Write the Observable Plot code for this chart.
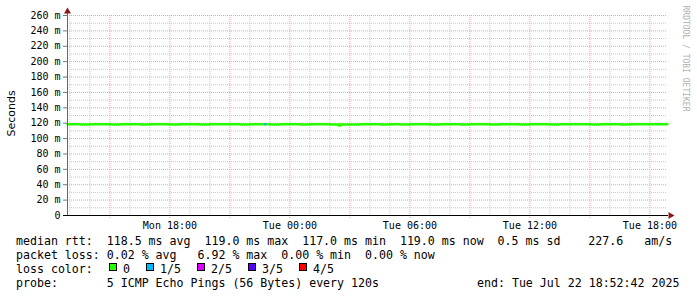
<!DOCTYPE html>
<html>
<head>
<meta charset="utf-8">
<script src="https://cdn.jsdelivr.net/npm/d3@7"></script>
<script src="https://cdn.jsdelivr.net/npm/@observablehq/plot@0.6"></script>
<style>
  html, body { margin: 0; padding: 0; background: #fff; }
  #wrap { width: 697px; height: 297px; position: relative; overflow: hidden; background: #fff; }
  #footer { position: relative; width: 697px; height: 65px; font-family: "DejaVu Sans Mono", monospace; font-size: 11.6px; line-height: 14px; color: #000; }
  #footer .t { position: absolute; white-space: pre; }
  #footer .sw { position: absolute; width: 6px; height: 6px; border: 1px solid #000; }
</style>
</head>
<body>
<div id="wrap"></div>
<script>
// ---- data ----
const startTime = "2025-07-21T12:52:42";
const endTime = "2025-07-22T18:52:42";
const times = [
  "2025-07-21T12:53","2025-07-21T13:00","2025-07-21T13:30","2025-07-21T14:00","2025-07-21T14:30",
  "2025-07-21T15:00","2025-07-21T15:30","2025-07-21T16:00","2025-07-21T16:30","2025-07-21T17:00",
  "2025-07-21T17:30","2025-07-21T18:00","2025-07-21T18:30","2025-07-21T19:00","2025-07-21T19:30",
  "2025-07-21T20:00","2025-07-21T20:30","2025-07-21T21:00","2025-07-21T21:30","2025-07-21T22:00",
  "2025-07-21T22:30","2025-07-21T23:00","2025-07-21T23:30","2025-07-22T00:00","2025-07-22T00:30",
  "2025-07-22T01:00","2025-07-22T01:30","2025-07-22T02:00","2025-07-22T02:20","2025-07-22T02:26",
  "2025-07-22T02:32","2025-07-22T03:00","2025-07-22T03:30","2025-07-22T04:00","2025-07-22T04:30",
  "2025-07-22T05:00","2025-07-22T05:30","2025-07-22T06:00","2025-07-22T06:30","2025-07-22T07:00",
  "2025-07-22T07:30","2025-07-22T08:00","2025-07-22T08:30","2025-07-22T09:00","2025-07-22T09:30",
  "2025-07-22T10:00","2025-07-22T10:30","2025-07-22T11:00","2025-07-22T11:30","2025-07-22T12:00",
  "2025-07-22T12:30","2025-07-22T13:00","2025-07-22T13:30","2025-07-22T14:00","2025-07-22T14:30",
  "2025-07-22T15:00","2025-07-22T15:30","2025-07-22T16:00","2025-07-22T16:30","2025-07-22T17:00",
  "2025-07-22T17:30","2025-07-22T18:00","2025-07-22T18:30","2025-07-22T18:52"
];
const medianMs = [
  118.6,118.6,118.4,118.5,118.7,
  118.3,118.5,118.6,118.4,118.5,
  118.6,118.4,118.5,118.6,118.3,
  118.5,118.6,118.5,118.4,118.6,
  118.5,118.4,118.6,118.5,118.3,
  118.5,118.6,118.4,118.4,117.0,
  118.4,118.3,118.5,118.6,118.4,
  118.5,118.3,118.6,118.5,118.4,
  118.6,118.5,118.3,118.5,118.6,
  118.4,118.5,118.6,118.4,118.5,
  118.6,118.3,118.5,118.6,118.5,
  118.4,118.6,118.5,118.4,118.6,
  118.5,118.6,118.7,119.0
];
const lossTimes = ["2025-07-21T22:46"];
const lossMs = [118.6];
const yTicks = [0,20,40,60,80,100,120,140,160,180,200,220,240,260];
const yMinor = [10,30,50,70,90,110,130,150,170,190,210,230,250];
const lossLabels = ["0","1/5","2/5","3/5","4/5"];
const lossColors = ["#26ff00","#00b8ff","#dd00ff","#5500ff","#ff0000"];
const legendLines = [
  "median rtt:  118.5 ms avg  119.0 ms max  117.0 ms min  119.0 ms now  0.5 ms sd    227.6   am/s",
  "packet loss: 0.02 % avg   6.92 % max  0.00 % min  0.00 % now",
  "loss color:",
  "probe:       5 ICMP Echo Pings (56 Bytes) every 120s"
];
const endLabel = "end: Tue Jul 22 18:52:42 2025";
const yTitle = "Seconds";
const sideText = "RRDTOOL / TOBI OETIKER";

// ---- build ----
const x0 = new Date(startTime), x1 = new Date(endTime);
const data = times.map((t, i) => ({t: new Date(t), v: medianMs[i]}));
const loss = lossTimes.map((t, i) => ({t: new Date(t), v: lossMs[i]}));
const hours = d3.timeHour.range(x0, x1);
const major = hours.filter(d => d.getHours() % 3 === 0);
const minor = hours.filter(d => d.getHours() % 3 !== 0);
const labelled = hours.filter(d => d.getHours() % 6 === 0);
const fmt = d3.timeFormat("%a %H:%M");
const mono = "DejaVu Sans Mono";

const chart = Plot.plot({
  width: 697, height: 232,
  marginLeft: 67, marginRight: 30, marginTop: 15, marginBottom: 17,
  style: {fontFamily: mono, fontSize: "10px", background: "#fff", overflow: "visible", color: "#000"},
  x: {type: "time", domain: [x0, x1]},
  y: {domain: [0, 260]},
  marks: [
    Plot.ruleY(yMinor, {stroke: "#c8c8c8", strokeDasharray: "1,1"}),
    Plot.ruleX(minor, {stroke: "#c8c8c8", strokeDasharray: "1,1", insetBottom: -2}),
    Plot.ruleY(yTicks.filter(d => d > 0), {stroke: "#eea0a0", strokeDasharray: "1,1"}),
    Plot.ruleX(major, {stroke: "#eea0a0", strokeDasharray: "1,1", insetBottom: -3}),
    Plot.line(data, {x: "t", y: "v", stroke: lossColors[0], strokeWidth: 2.5, curve: "step-after"}),
    Plot.dot(loss, {x: "t", y: "v", fill: lossColors[1], r: 1.2}),
    Plot.axisY(yTicks, {tickSize: 4, tickPadding: 3, stroke: "#777", fill: "#000",
      tickFormat: d => d === 0 ? "0" : d + " m", label: null}),
    Plot.axisX(labelled, {tickSize: 0, tickPadding: 6, tickFormat: fmt, fill: "#000", label: null}),
    Plot.ruleX([x0], {stroke: "#666", strokeWidth: 1, insetTop: -4}),
    Plot.ruleY([0], {stroke: "#000", strokeWidth: 1, insetLeft: -4, insetRight: -1}),
    Plot.dot([x0], {x: d => d, frameAnchor: "top", dy: -4, symbol: "triangle", fill: "#8b1a1a", stroke: "none", r: 2.6}),
    Plot.dot([0], {y: d => d, frameAnchor: "right", dx: 3, symbol: "triangle", rotate: 90, fill: "#8b1a1a", stroke: "none", r: 2.6}),
    Plot.text([yTitle], {frameAnchor: "left", dx: -56.5, dy: 21, rotate: -90, fontFamily: "DejaVu Sans", fontSize: 11, fill: "#000"}),
    Plot.text([sideText], {frameAnchor: "top-right", dx: 21, dy: -10, rotate: 90, textAnchor: "start", fontFamily: mono, fontSize: 8, fill: "#b0b0b0"})
  ]
});
const wrap = document.getElementById("wrap");
wrap.appendChild(chart);

// ---- footer legend ----
const footer = document.createElement("div");
footer.id = "footer";
legendLines.forEach((s, i) => {
  const el = document.createElement("div");
  el.className = "t";
  el.style.left = "16px";
  el.style.top = (2 + i * 14) + "px";
  el.textContent = s;
  footer.appendChild(el);
});
const swX = [109, 146, 197, 248, 299];
lossLabels.forEach((lab, i) => {
  const sw = document.createElement("div");
  sw.className = "sw";
  sw.style.left = swX[i] + "px";
  sw.style.top = "31px";
  sw.style.background = lossColors[i];
  footer.appendChild(sw);
  const el = document.createElement("div");
  el.className = "t";
  el.style.left = (swX[i] + 14) + "px";
  el.style.top = "30px";
  el.textContent = lab;
  footer.appendChild(el);
});
const endEl = document.createElement("div");
endEl.className = "t";
endEl.style.left = "477px";
endEl.style.top = "44px";
endEl.textContent = endLabel;
footer.appendChild(endEl);
wrap.appendChild(footer);
</script>
</body>
</html>
